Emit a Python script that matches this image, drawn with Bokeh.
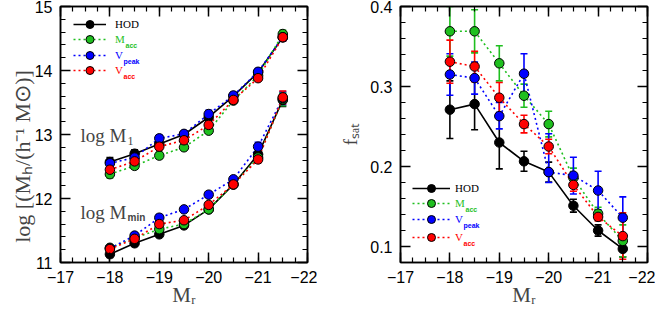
import numpy as np
from bokeh.plotting import figure
from bokeh.layouts import row
from bokeh.models import (ColumnDataSource, FixedTicker, Label, Legend, LegendItem,
                          LinearAxis, Range1d, TeeHead, Whisker)
from bokeh.embed import file_html
from bokeh.resources import INLINE

# ---------------- data ----------------
mr = [-18.0, -18.5, -19.0, -19.5, -20.0, -20.5, -21.0, -21.5]

# left panel: log M1 and log Mmin
hod_m1 = [12.57, 12.70, 12.85, 13.00, 13.27, 13.60, 13.97, 14.52]
hod_m1_err = [0.07, 0.06, 0.05, 0.04, 0.05, 0.04, 0.04, 0.05]
macc_m1 = [12.38, 12.51, 12.67, 12.80, 13.06, 13.53, 13.92, 14.57]
macc_m1_err = [0.06, 0.05, 0.05, 0.03, 0.04, 0.04, 0.04, 0.06]
vpeak_m1 = [12.55, 12.64, 12.94, 13.01, 13.32, 13.61, 13.98, 14.52]
vpeak_m1_err = [0.06, 0.05, 0.05, 0.04, 0.06, 0.05, 0.05, 0.06]
vacc_m1 = [12.45, 12.58, 12.81, 12.91, 13.15, 13.54, 13.88, 14.52]
vacc_m1_err = [0.05, 0.05, 0.05, 0.04, 0.05, 0.04, 0.04, 0.06]

hod_mmin = [11.13, 11.30, 11.44, 11.58, 11.83, 12.22, 12.69, 13.54]
hod_mmin_err = [0.05, 0.04, 0.03, 0.03, 0.03, 0.04, 0.05, 0.10]
macc_mmin = [11.23, 11.38, 11.52, 11.60, 11.83, 12.22, 12.64, 13.55]
macc_mmin_err = [0.04, 0.03, 0.03, 0.03, 0.03, 0.04, 0.06, 0.10]
vpeak_mmin = [11.22, 11.42, 11.70, 11.83, 12.06, 12.30, 12.81, 13.57]
vpeak_mmin_err = [0.04, 0.04, 0.05, 0.04, 0.04, 0.04, 0.07, 0.10]
vacc_mmin = [11.21, 11.37, 11.60, 11.66, 11.90, 12.22, 12.61, 13.58]
vacc_mmin_err = [0.04, 0.04, 0.04, 0.04, 0.04, 0.04, 0.05, 0.10]

# right panel: satellite fraction
hod_fsat = [0.271, 0.278, 0.230, 0.2065, 0.193, 0.151, 0.120, 0.097]
hod_fsat_err = [0.036, 0.032, 0.033, 0.0125, 0.0125, 0.008, 0.007, 0.010]
macc_fsat = [0.369, 0.369, 0.329, 0.2885, 0.253, 0.186, 0.141, 0.107]
macc_fsat_err = [0.031, 0.027, 0.022, 0.0145, 0.016, 0.012, 0.008, 0.020]
vpeak_fsat = [0.315, 0.3105, 0.263, 0.316, 0.193, 0.1886, 0.170, 0.136]
vpeak_fsat_err_lo = [0.026, 0.020, 0.016, 0.029, 0.013, 0.023, 0.024, 0.026]
vpeak_fsat_err_hi = [0.026, 0.020, 0.017, 0.025, 0.048, 0.023, 0.024, 0.026]
vacc_fsat = [0.331, 0.325, 0.286, 0.253, 0.225, 0.177, 0.137, 0.113]
vacc_fsat_err = [0.027, 0.019, 0.019, 0.011, 0.009, 0.008, 0.005, 0.029]

x_ticks = [-17, -18, -19, -20, -21, -22]
x_tick_labels = ["\u221217", "\u221218", "\u221219", "\u221220", "\u221221", "\u221222"]
left_y_ticks = [11, 12, 13, 14, 15]
left_y_tick_labels = ["11", "12", "13", "14", "15"]
right_y_ticks = [0.1, 0.2, 0.3, 0.4]
right_y_tick_labels = ["0.1", "0.2", "0.3", "0.4"]

x_title = "M\u1d63"
left_y_title = "log [(M\u2095/(h\u207b\u00b9 M\u2299)]" + "\u00a0" * 8
right_y_title = "f\u209b\u2090\u209c"

legend_main = ["HOD", "M", "V", "V"]
legend_sub = ["", "acc", "peak", "acc"]
colors = ["#000000", "#1fbf1f", "#0000ff", "#ff0000"]
dashes = ["solid", "2 3", "2 3", "2 3"]

# ---------------- style ----------------
FIG_H = 310
TOP = 6
FRAME_H = 256
SERIF = "Liberation Serif"
SANS = "Liberation Sans"


def make_fig(width, b_left, b_right, y0, y1, yt, ylabels, yminor, ytitle, ysize, ystand):
    p = figure(width=width, height=FIG_H, x_range=Range1d(-17, -22), y_range=Range1d(y0, y1),
               output_backend="svg", toolbar_location=None,
               min_border_left=b_left, min_border_right=b_right,
               min_border_top=TOP, min_border_bottom=FIG_H - TOP - FRAME_H)
    p.grid.visible = False
    p.outline_line_color = "black"
    p.outline_line_width = 1.5
    p.background_fill_color = "white"
    p.border_fill_color = "white"
    p.add_layout(LinearAxis(), "above")
    p.add_layout(LinearAxis(), "right")
    xminor = [round(v, 2) for v in np.arange(-22, -16.99, 0.25)]
    for ax in p.xaxis:
        ax.ticker = FixedTicker(ticks=x_ticks, minor_ticks=xminor)
        ax.major_label_overrides = dict(zip(x_ticks, x_tick_labels))
    for ax in p.yaxis:
        ax.ticker = FixedTicker(ticks=yt, minor_ticks=yminor)
        ax.major_label_overrides = dict(zip(yt, ylabels))
    for ax in list(p.xaxis) + list(p.yaxis):
        ax.major_tick_in = 10
        ax.major_tick_out = 0
        ax.minor_tick_in = 5
        ax.minor_tick_out = 0
        ax.axis_line_width = 1.5
        ax.major_tick_line_width = 1.5
        ax.minor_tick_line_width = 1.2
        ax.major_label_text_font = SANS
        ax.major_label_text_font_size = "16px"
        ax.major_label_text_color = "black"
        ax.major_label_standoff = 8
    for ax in p.above + p.right:
        ax.major_label_text_font_size = "0px"
        ax.major_label_text_color = None
        ax.major_label_standoff = 0
    bx = p.below[0]
    bx.axis_label = x_title
    bx.axis_label_text_font = SERIF
    bx.axis_label_text_font_style = "normal"
    bx.axis_label_text_font_size = "21px"
    bx.axis_label_standoff = -3
    ly = p.left[0]
    ly.axis_label = ytitle
    ly.axis_label_text_font = SERIF
    ly.axis_label_text_font_style = "normal"
    ly.axis_label_text_font_size = ysize
    ly.axis_label_standoff = ystand
    return p


def draw_series(p, ys, lows, highs):
    lines = []
    for y, c, d in zip(ys, colors, dashes):
        lines.append(p.line(mr, y, line_color=c, line_width=1.6, line_dash=d))
    for y, lo, hi, c in zip(ys, lows, highs, colors):
        src = ColumnDataSource(dict(x=mr, lower=[a - b for a, b in zip(y, lo)],
                                    upper=[a + b for a, b in zip(y, hi)]))
        w = Whisker(source=src, base="x", lower="lower", upper="upper",
                    line_color=c, line_width=1.6, level="underlay",
                    lower_head=TeeHead(size=7, line_color=c, line_width=1.6),
                    upper_head=TeeHead(size=7, line_color=c, line_width=1.6))
        p.add_layout(w)
    return lines


def draw_dots(p, ys):
    dots = []
    for y, c in zip(ys, colors):
        dots.append(p.scatter(mr, y, size=9.5, fill_color=c, line_color="black", line_width=1))
    return dots


def add_legend(p, lines, dots, x, centers, gw, standoff):
    for i in range(4):
        leg = Legend(items=[LegendItem(label=legend_main[i], renderers=[lines[i], dots[i]])],
                     location=(x, centers[i] - 10), orientation="vertical",
                     glyph_width=gw, glyph_height=20, label_height=20, label_width=10,
                     label_standoff=standoff, padding=0, margin=0, spacing=0,
                     border_line_color=None, background_fill_alpha=0,
                     label_text_font=SERIF, label_text_font_size="11px",
                     label_text_color=colors[i])
        p.add_layout(leg)
        if legend_sub[i]:
            mw = 10 if legend_main[i] == "M" else 8
            p.add_layout(Label(x=x + gw + standoff + mw, y=centers[i] - 6,
                               x_units="screen", y_units="screen", text=legend_sub[i],
                               text_font=SANS, text_font_style="bold", text_font_size="7px",
                               text_color=colors[i], text_baseline="alphabetic"))


# ---------------- left panel ----------------
W1 = 60 + 247 + 10
p1 = make_fig(W1, 60, 10, 11, 15, left_y_ticks, left_y_tick_labels,
              [round(v, 2) for v in np.arange(11, 15.001, 0.2)], left_y_title, "22px", -3)

m1_sets = [hod_m1, macc_m1, vpeak_m1, vacc_m1]
m1_errs = [hod_m1_err, macc_m1_err, vpeak_m1_err, vacc_m1_err]
mmin_sets = [hod_mmin, macc_mmin, vpeak_mmin, vacc_mmin]
mmin_errs = [hod_mmin_err, macc_mmin_err, vpeak_mmin_err, vacc_mmin_err]

l_lines = draw_series(p1, m1_sets, m1_errs, m1_errs)
draw_series(p1, mmin_sets, mmin_errs, mmin_errs)
l_dots = draw_dots(p1, m1_sets)
draw_dots(p1, mmin_sets)

add_legend(p1, l_lines, l_dots, 13,
           [FRAME_H - 17.6, FRAME_H - 33.3, FRAME_H - 48.6, FRAME_H - 64.3], 33, 9)

p1.add_layout(Label(x=-17.405, y=12.98, text="log M", text_font=SERIF, text_font_size="19px",
                    text_baseline="alphabetic"))
p1.add_layout(Label(x=-17.405, y=12.98, x_offset=47, y_offset=-5, text="1", text_font=SERIF,
                    text_font_size="12px", text_baseline="alphabetic"))
p1.add_layout(Label(x=-17.405, y=11.78, text="log M", text_font=SERIF, text_font_size="19px",
                    text_baseline="alphabetic"))
p1.add_layout(Label(x=-17.405, y=11.78, x_offset=47, y_offset=-5, text="min", text_font=SANS,
                    text_font_style="bold", text_font_size="10px", text_baseline="alphabetic"))

# ---------------- right panel ----------------
W2 = 83 + 247 + 8
p2 = make_fig(W2, 83, 8, 0.08, 0.40, right_y_ticks, right_y_tick_labels,
              [round(v, 3) for v in np.arange(0.08, 0.4001, 0.02)], right_y_title, "19px", 6)

fsat_sets = [hod_fsat, macc_fsat, vpeak_fsat, vacc_fsat]
fsat_lo = [hod_fsat_err, macc_fsat_err, vpeak_fsat_err_lo, vacc_fsat_err]
fsat_hi = [hod_fsat_err, macc_fsat_err, vpeak_fsat_err_hi, vacc_fsat_err]
r_lines = draw_series(p2, fsat_sets, fsat_lo, fsat_hi)
r_dots = draw_dots(p2, fsat_sets)

add_legend(p2, r_lines, r_dots, 12, [74.4, 59.0, 42.7, 25.0], 38, 5)

layout = row(p1, p2)
open("out.html", "w").write(file_html(layout, INLINE))
